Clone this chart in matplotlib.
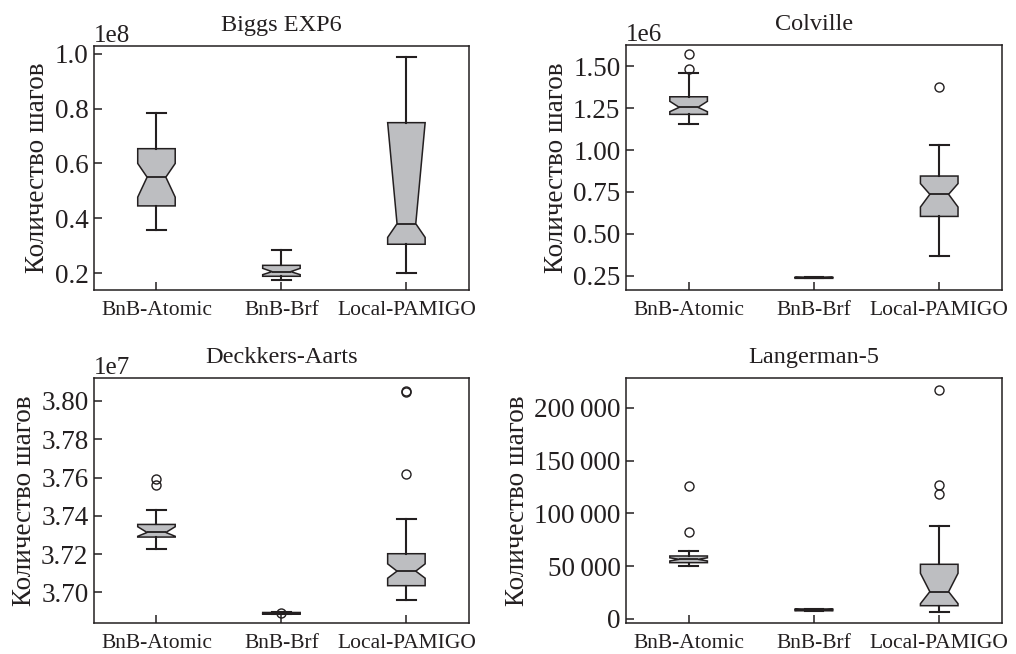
import matplotlib
matplotlib.use("Agg")
import matplotlib.pyplot as plt
from matplotlib.ticker import FuncFormatter, ScalarFormatter

plt.rcParams['font.family'] = ['Liberation Serif', 'DejaVu Serif']
plt.rcParams['mathtext.fontset'] = 'stix'

labels = ['BnB-Atomic', 'BnB-Brf', 'Local-PAMIGO']
ylabel_text = 'Количество шагов'

# Biggs EXP6
biggs_whislo = [0.357e8, 0.176e8, 0.201e8]
biggs_q1 = [0.445e8, 0.188e8, 0.305e8]
biggs_cilo = [0.477e8, 0.194e8, 0.330e8]
biggs_med = [0.550e8, 0.205e8, 0.380e8]
biggs_cihi = [0.600e8, 0.217e8, 0.749e8]
biggs_q3 = [0.654e8, 0.228e8, 0.749e8]
biggs_whishi = [0.783e8, 0.284e8, 0.988e8]
biggs_fliers = [[], [], []]
biggs_ticks = [0.2e8, 0.4e8, 0.6e8, 0.8e8, 1.0e8]

# Colville
colville_whislo = [1.158e6, 0.2345e6, 0.366e6]
colville_q1 = [1.213e6, 0.2345e6, 0.604e6]
colville_cilo = [1.229e6, 0.236e6, 0.660e6]
colville_med = [1.255e6, 0.238e6, 0.736e6]
colville_cihi = [1.291e6, 0.240e6, 0.800e6]
colville_q3 = [1.318e6, 0.2415e6, 0.845e6]
colville_whishi = [1.458e6, 0.2415e6, 1.028e6]
colville_fliers = [[1.482e6, 1.572e6], [], [1.378e6]]
colville_ticks = [0.25e6, 0.50e6, 0.75e6, 1.00e6, 1.25e6, 1.50e6]

# Deckkers-Aarts
deckkers_whislo = [3.7226e7, 3.6886e7, 3.6958e7]
deckkers_q1 = [3.7289e7, 3.6886e7, 3.7035e7]
deckkers_cilo = [3.7293e7, 3.6888e7, 3.7074e7]
deckkers_med = [3.7313e7, 3.6890e7, 3.7111e7]
deckkers_cihi = [3.7343e7, 3.6892e7, 3.7149e7]
deckkers_q3 = [3.7355e7, 3.6895e7, 3.7202e7]
deckkers_whishi = [3.7429e7, 3.6895e7, 3.7383e7]
deckkers_fliers = [[3.7559e7, 3.7594e7], [3.6893e7], [3.7618e7, 3.8045e7, 3.8054e7]]
deckkers_ticks = [3.70e7, 3.72e7, 3.74e7, 3.76e7, 3.78e7, 3.80e7]

# Langerman-5
langerman_whislo = [50550, 7800, 6320]
langerman_q1 = [53400, 7800, 12610]
langerman_cilo = [55000, 8200, 14500]
langerman_med = [56560, 8600, 25880]
langerman_cihi = [58000, 9000, 43300]
langerman_q3 = [59720, 9500, 51850]
langerman_whishi = [64460, 9500, 88150]
langerman_fliers = [[82180, 126350], [], [118800, 126700, 216800]]
langerman_ticks = [0, 50000, 100000, 150000, 200000]

panels = [
    dict(title='Biggs EXP6', whislo=biggs_whislo, q1=biggs_q1, cilo=biggs_cilo, med=biggs_med,
         cihi=biggs_cihi, q3=biggs_q3, whishi=biggs_whishi, fliers=biggs_fliers,
         ticks=biggs_ticks, ylim=(0.138e8, 1.029e8), rect=[0.0925, 0.5566, 0.369, 0.3731], kind='sci'),
    dict(title='Colville', whislo=colville_whislo, q1=colville_q1, cilo=colville_cilo, med=colville_med,
         cihi=colville_cihi, q3=colville_q3, whishi=colville_whishi, fliers=colville_fliers,
         ticks=colville_ticks, ylim=(0.165e6, 1.627e6), rect=[0.6161, 0.5566, 0.370, 0.3746], kind='sci'),
    dict(title='Deckkers-Aarts', whislo=deckkers_whislo, q1=deckkers_q1, cilo=deckkers_cilo, med=deckkers_med,
         cihi=deckkers_cihi, q3=deckkers_q3, whishi=deckkers_whishi, fliers=deckkers_fliers,
         ticks=deckkers_ticks, ylim=(3.684e7, 3.812e7), rect=[0.0925, 0.0474, 0.369, 0.3746], kind='sci'),
    dict(title='Langerman-5', whislo=langerman_whislo, q1=langerman_q1, cilo=langerman_cilo, med=langerman_med,
         cihi=langerman_cihi, q3=langerman_q3, whishi=langerman_whishi, fliers=langerman_fliers,
         ticks=langerman_ticks, ylim=(-3800, 228400), rect=[0.6161, 0.0474, 0.370, 0.3746], kind='plain'),
]

ink = '#231f20'
fill = '#bdbec1'

fig = plt.figure(figsize=(10.16, 6.54), dpi=100)

def thin(v, pos):
    s = f"{int(round(v)):,}"
    return s.replace(',', '\u2009')

for p in panels:
    ax = fig.add_axes(p['rect'])
    stats = []
    for i, lab in enumerate(labels):
        stats.append(dict(label=lab, whislo=p['whislo'][i], q1=p['q1'][i], med=p['med'][i],
                          q3=p['q3'][i], whishi=p['whishi'][i], cilo=p['cilo'][i],
                          cihi=p['cihi'][i], fliers=p['fliers'][i]))
    ax.bxp(stats, shownotches=True, patch_artist=True,
           boxprops=dict(facecolor=fill, edgecolor=ink, linewidth=1.1),
           medianprops=dict(color=ink, linewidth=1.3),
           whiskerprops=dict(color=ink, linewidth=1.5),
           capprops=dict(color=ink, linewidth=1.5),
           flierprops=dict(marker='o', markersize=6.5, markerfacecolor='none',
                           markeredgecolor=ink, markeredgewidth=1.0))
    ax.set_xlim(0.5, 3.5)
    ax.set_ylim(*p['ylim'])
    ax.set_yticks(p['ticks'])
    if p['kind'] == 'sci':
        fmt = ScalarFormatter(useOffset=False)
        fmt.set_scientific(True)
        fmt.set_powerlimits((-3, 4))
        ax.yaxis.set_major_formatter(fmt)
    else:
        ax.yaxis.set_major_formatter(FuncFormatter(thin))
    ax.yaxis.get_offset_text().set_fontsize(18)
    ax.yaxis.get_offset_text().set_color(ink)
    ax.tick_params(axis='y', direction='in', length=6, width=1.1, labelsize=19.5, pad=4, colors=ink)
    ax.tick_params(axis='x', direction='in', length=6, width=1.1, labelsize=15.5, pad=8, colors=ink)
    for s in ax.spines.values():
        s.set_linewidth(1.1)
        s.set_color(ink)
    ax.set_title(p['title'], fontsize=17.5, pad=11, color=ink)
    ax.set_ylabel(ylabel_text, fontsize=19.5, labelpad=3, color=ink)

fig.savefig('out.png', dpi=100)
